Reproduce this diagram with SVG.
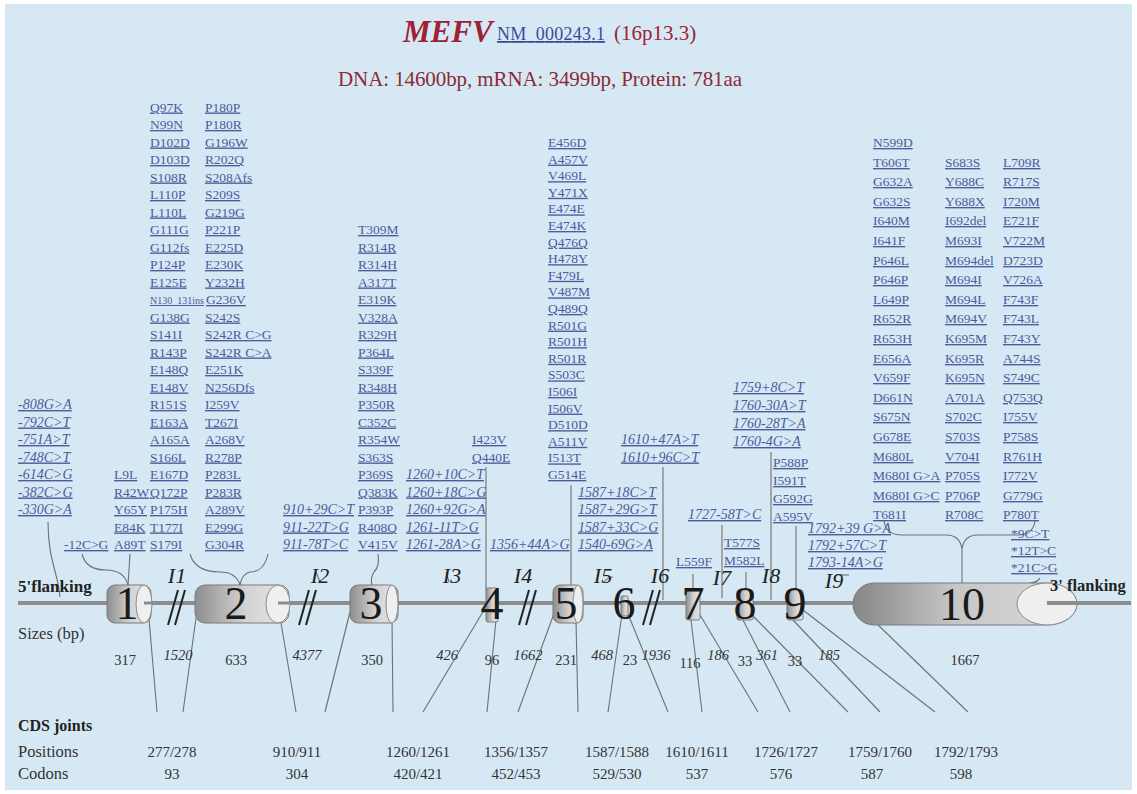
<svg xmlns="http://www.w3.org/2000/svg" width="1137" height="794" viewBox="0 0 1137 794">
<defs>
<style>
text{font-family:"Liberation Serif","Times New Roman",serif}
.m{font-size:13.5px;fill:#4b5b9b;text-decoration:underline}
.mi{font-size:14px;fill:#4b5b9b;text-decoration:underline;font-style:italic}
.lb{font-size:16.5px;fill:#333}
.sz{font-size:14.5px;fill:#333;text-anchor:middle}
.szi{font-size:14.5px;fill:#333;text-anchor:middle;font-style:italic}
.in{font-size:22px;fill:#222;font-style:italic;text-anchor:middle}
.en{font-size:46px;fill:#1a1a1a;text-anchor:middle}
.pos{font-size:15px;fill:#333;text-anchor:middle}
.ln{stroke:#707070;stroke-width:1.1;fill:none}
.cap{fill:#efefef;stroke:#8a8a8a;stroke-width:1}
.ex{stroke:#7a7a7a;stroke-width:1}
.brk{stroke:#222;stroke-width:2}
</style>
<linearGradient id="eg" x1="0" y1="0" x2="1" y2="0">
<stop offset="0" stop-color="#8e8e8e"/><stop offset="0.55" stop-color="#d4d4d4"/><stop offset="1" stop-color="#e4e4e4"/>
</linearGradient>
<linearGradient id="eg10" x1="0" y1="0" x2="1" y2="0">
<stop offset="0" stop-color="#868686"/><stop offset="0.45" stop-color="#c6c6c6"/><stop offset="1" stop-color="#dadada"/>
</linearGradient>
</defs>
<rect width="1137" height="794" fill="#ffffff"/>
<rect x="5" y="4" width="1127" height="786" fill="#d7e8f5"/>

<g id="title">
<text x="403" y="42" font-family="Liberation Serif, serif" font-size="31" font-weight="bold" font-style="italic" fill="#9e2236">MEFV</text>
<text x="497" y="40" font-family="Liberation Serif, serif" font-size="18" fill="#3a4a9a" text-decoration="underline" textLength="108">NM_000243.1</text>
<text x="614" y="40" font-family="Liberation Serif, serif" font-size="21" fill="#9e2236">(16p13.3)</text>
<text x="338" y="86" font-family="Liberation Serif, serif" font-size="21" fill="#8c2a36" textLength="404">DNA: 14600bp, mRNA: 3499bp, Protein: 781aa</text>
</g>

<g id="connectors">
<line x1="18" y1="603" x2="1131" y2="603" stroke="#8d8d8d" stroke-width="4"/>
<path class="ln" d="M48,522 C48,560 58,572 60,597"/>
<path class="ln" d="M82,554 Q86,570 106,570 Q124,570 128,585"/>
<path class="ln" d="M130,554 L128,585"/>
<path class="ln" d="M190,554 Q195,572 220,572 Q236,572 240,585"/>
<path class="ln" d="M268,554 Q264,572 250,572 Q242,574 240,585"/>
<path class="ln" d="M316,572 L320,582"/>
<path class="ln" d="M378,554 Q380,566 374,572 Q370,578 372,585"/>
<path class="ln" d="M446,572 L449,582"/>
<path class="ln" d="M486,467 L486,590"/>
<path class="ln" d="M527,582 L531,573"/>
<path class="ln" d="M571,485 L571,588"/>
<path class="ln" d="M604,582 Q608,577 613,577"/>
<path class="ln" d="M663,467 L663,600"/>
<path class="ln" d="M693,574 L693,592"/>
<path class="ln" d="M722,525 L722,598"/>
<path class="ln" d="M746,572 L746,592"/>
<path class="ln" d="M771,452 L771,600"/>
<path class="ln" d="M796,526 L796,592"/>
<path class="ln" d="M836,575 L849,575"/>
<path class="ln" d="M884,521 Q886,535 902,535 L946,535 Q960,535 962,549 Q964,535 978,535 L1018,535 Q1033,535 1035,521"/>
<path class="ln" d="M962,549 L962,584"/>
<path class="ln" d="M1040,578 C1036,590 978,580 966,588"/>
<path class="ln" d="M157,712 L149,619"/>
<path class="ln" d="M183,712 L196,618"/>
<path class="ln" d="M296,712 L280,617"/>
<path class="ln" d="M325,712 L350,612"/>
<path class="ln" d="M393,712 L392,620"/>
<path class="ln" d="M423,712 L490,600"/>
<path class="ln" d="M487,712 L496,620"/>
<path class="ln" d="M518,712 L556,608"/>
<path class="ln" d="M578,712 L576,621"/>
<path class="ln" d="M608,712 L622,614"/>
<path class="ln" d="M668,712 L628,614"/>
<path class="ln" d="M702,712 L691,620"/>
<path class="ln" d="M758,712 L700,615"/>
<path class="ln" d="M790,712 L742,618"/>
<path class="ln" d="M848,712 L752,615"/>
<path class="ln" d="M880,712 L793,620"/>
<path class="ln" d="M935,712 L803,610"/>
<path class="ln" d="M968,712 L875,622"/>
<line class="brk" x1="168" y1="625" x2="178" y2="590"/><line class="brk" x1="175" y1="625" x2="185" y2="590"/>
<line class="brk" x1="299" y1="625" x2="309" y2="590"/><line class="brk" x1="306" y1="625" x2="316" y2="590"/>
<line class="brk" x1="519" y1="625" x2="529" y2="590"/><line class="brk" x1="526" y1="625" x2="536" y2="590"/>
<line class="brk" x1="643" y1="625" x2="653" y2="590"/><line class="brk" x1="650" y1="625" x2="660" y2="590"/>
</g>

<g id="exon1">
<rect class="ex" x="107" y="585" width="44" height="38" rx="8" fill="url(#eg)"/>
<ellipse class="cap" cx="144" cy="604" rx="8" ry="19"/>
<line x1="144" y1="603" x2="152" y2="603" stroke="#8d8d8d" stroke-width="3"/>
<text class="en" x="127" y="619">1</text>
</g>
<g id="exon2">
<rect class="ex" x="195" y="585" width="94" height="38" rx="10" fill="url(#eg)"/>
<ellipse class="cap" cx="278" cy="604" rx="12" ry="19"/>
<line x1="278" y1="603" x2="290" y2="603" stroke="#8d8d8d" stroke-width="3"/>
<text class="en" x="236" y="619">2</text>
</g>
<g id="exon3">
<rect class="ex" x="350" y="585" width="48" height="38" rx="8" fill="url(#eg)"/>
<ellipse class="cap" cx="392" cy="604" rx="6" ry="19"/>
<text class="en" x="371" y="619">3</text>
</g>
<g id="exon4">
<rect class="ex" x="486" y="588" width="12" height="34" rx="2" fill="url(#eg)"/>
<text class="en" x="492" y="619" font-size="44">4</text>
</g>
<g id="exon5">
<rect class="ex" x="553" y="585" width="30" height="38" rx="7" fill="url(#eg)"/>
<ellipse class="cap" cx="578" cy="604" rx="5" ry="19"/>
<text class="en" x="566" y="619">5</text>
</g>
<g id="exon6">
<rect class="ex" x="621" y="596" width="7" height="20" rx="1" fill="url(#eg)"/>
<text class="en" x="624" y="619" font-size="44">6</text>
</g>
<g id="exon7">
<rect class="ex" x="686" y="590" width="14" height="30" rx="2" fill="url(#eg)"/>
<text class="en" x="693" y="619" font-size="44">7</text>
</g>
<g id="exon8">
<rect class="ex" x="737" y="590" width="16" height="30" rx="2" fill="url(#eg)"/>
<text class="en" x="745" y="619" font-size="44">8</text>
</g>
<g id="exon9">
<rect class="ex" x="787" y="590" width="16" height="30" rx="2" fill="url(#eg)"/>
<text class="en" x="795" y="619" font-size="44">9</text>
</g>
<g id="exon10">
<path class="ex" d="M874,583 L1047,583 A30,21 0 0 1 1047,625 L874,625 A21,21 0 0 1 874,583 Z" fill="url(#eg10)"/>
<ellipse class="cap" cx="1047" cy="604" rx="30" ry="21"/>
<line x1="1047" y1="603" x2="1131" y2="603" stroke="#8d8d8d" stroke-width="4"/>
<text class="en" x="962" y="620">10</text>
</g>

<g id="labels">
<text x="18" y="592" font-size="17" font-weight="bold" fill="#222">5'flanking</text>
<text x="1050" y="591" font-size="16.5" font-weight="bold" fill="#222">3' flanking</text>
<text class="lb" x="18" y="639">Sizes (bp)</text>
<text class="in" x="177" y="583">I1</text>
<text class="in" x="320" y="583">I2</text>
<text class="in" x="452" y="583">I3</text>
<text class="in" x="523" y="583">I4</text>
<text class="in" x="603" y="583">I5</text>
<text class="in" x="660" y="583">I6</text>
<text class="in" x="722" y="585">I7</text>
<text class="in" x="771" y="583">I8</text>
<text class="in" x="834" y="588">I9</text>
<text class="sz" x="125" y="665">317</text>
<text class="szi" x="178" y="660">1520</text>
<text class="sz" x="236" y="665">633</text>
<text class="szi" x="307" y="660">4377</text>
<text class="sz" x="372" y="665">350</text>
<text class="szi" x="447" y="660">426</text>
<text class="sz" x="492" y="665">96</text>
<text class="szi" x="528" y="660">1662</text>
<text class="sz" x="566" y="665">231</text>
<text class="szi" x="602" y="660">468</text>
<text class="sz" x="630" y="665">23</text>
<text class="szi" x="656" y="660">1936</text>
<text class="sz" x="690" y="668">116</text>
<text class="szi" x="718" y="660">186</text>
<text class="sz" x="745" y="666">33</text>
<text class="szi" x="767" y="660">361</text>
<text class="sz" x="795" y="666">33</text>
<text class="szi" x="829" y="660">185</text>
<text class="sz" x="965" y="665">1667</text>
<text x="18" y="731" font-size="16" font-weight="bold" fill="#222">CDS joints</text>
<text class="lb" x="18" y="757">Positions</text>
<text class="lb" x="18" y="779">Codons</text>
<text class="pos" x="172" y="757">277/278</text><text class="pos" x="172" y="779">93</text>
<text class="pos" x="297" y="757">910/911</text><text class="pos" x="297" y="779">304</text>
<text class="pos" x="418" y="757">1260/1261</text><text class="pos" x="418" y="779">420/421</text>
<text class="pos" x="516" y="757">1356/1357</text><text class="pos" x="516" y="779">452/453</text>
<text class="pos" x="617" y="757">1587/1588</text><text class="pos" x="617" y="779">529/530</text>
<text class="pos" x="697" y="757">1610/1611</text><text class="pos" x="697" y="779">537</text>
<text class="pos" x="786" y="757">1726/1727</text><text class="pos" x="781" y="779">576</text>
<text class="pos" x="880" y="757">1759/1760</text><text class="pos" x="872" y="779">587</text>
<text class="pos" x="966" y="757">1792/1793</text><text class="pos" x="961" y="779">598</text>
</g>

<g id="mut-5flank">
<text class="mi" x="18" y="409">-808G&gt;A</text>
<text class="mi" x="18" y="426.5">-792C&gt;T</text>
<text class="mi" x="18" y="444">-751A&gt;T</text>
<text class="mi" x="18" y="461.5">-748C&gt;T</text>
<text class="mi" x="18" y="479">-614C&gt;G</text>
<text class="mi" x="18" y="496.5">-382C&gt;G</text>
<text class="mi" x="18" y="514">-330G&gt;A</text>
</g>
<g id="mut-exon1">
<text class="m" x="64" y="549">-12C&gt;G</text>
<text class="m" x="114" y="479">L9L</text>
<text class="m" x="114" y="496.5">R42W</text>
<text class="m" x="114" y="514">Y65Y</text>
<text class="m" x="114" y="531.5">E84K</text>
<text class="m" x="114" y="549">A89T</text>
</g>
<g id="mut-exon2">
<text class="m" x="150" y="111.5">Q97K</text>
<text class="m" x="150" y="129">N99N</text>
<text class="m" x="150" y="146.5">D102D</text>
<text class="m" x="150" y="164">D103D</text>
<text class="m" x="150" y="181.5">S108R</text>
<text class="m" x="150" y="199">L110P</text>
<text class="m" x="150" y="216.5">L110L</text>
<text class="m" x="150" y="234">G111G</text>
<text class="m" x="150" y="251.5">G112fs</text>
<text class="m" x="150" y="269">P124P</text>
<text class="m" x="150" y="286.5">E125E</text>
<text class="m" x="150" y="304" style="font-size:10px">N130_131ins</text>
<text class="m" x="150" y="321.5">G138G</text>
<text class="m" x="150" y="339">S141I</text>
<text class="m" x="150" y="356.5">R143P</text>
<text class="m" x="150" y="374">E148Q</text>
<text class="m" x="150" y="391.5">E148V</text>
<text class="m" x="150" y="409">R151S</text>
<text class="m" x="150" y="426.5">E163A</text>
<text class="m" x="150" y="444">A165A</text>
<text class="m" x="150" y="461.5">S166L</text>
<text class="m" x="150" y="479">E167D</text>
<text class="m" x="150" y="496.5">Q172P</text>
<text class="m" x="150" y="514">P175H</text>
<text class="m" x="150" y="531.5">T177I</text>
<text class="m" x="150" y="549">S179I</text>
<text class="m" x="205" y="111.5">P180P</text>
<text class="m" x="205" y="129">P180R</text>
<text class="m" x="205" y="146.5">G196W</text>
<text class="m" x="205" y="164">R202Q</text>
<text class="m" x="205" y="181.5">S208Afs</text>
<text class="m" x="205" y="199">S209S</text>
<text class="m" x="205" y="216.5">G219G</text>
<text class="m" x="205" y="234">P221P</text>
<text class="m" x="205" y="251.5">E225D</text>
<text class="m" x="205" y="269">E230K</text>
<text class="m" x="205" y="286.5">Y232H</text>
<text class="m" x="206" y="304">G236V</text>
<text class="m" x="205" y="321.5">S242S</text>
<text class="m" x="205" y="339">S242R C&gt;G</text>
<text class="m" x="205" y="356.5">S242R C&gt;A</text>
<text class="m" x="205" y="374">E251K</text>
<text class="m" x="205" y="391.5">N256Dfs</text>
<text class="m" x="205" y="409">I259V</text>
<text class="m" x="205" y="426.5">T267I</text>
<text class="m" x="205" y="444">A268V</text>
<text class="m" x="205" y="461.5">R278P</text>
<text class="m" x="205" y="479">P283L</text>
<text class="m" x="205" y="496.5">P283R</text>
<text class="m" x="205" y="514">A289V</text>
<text class="m" x="205" y="531.5">E299G</text>
<text class="m" x="205" y="549">G304R</text>
</g>
<g id="mut-intron2">
<text class="mi" x="283" y="514">910+29C&gt;T</text>
<text class="mi" x="283" y="531.5">911-22T&gt;G</text>
<text class="mi" x="283" y="549">911-78T&gt;C</text>
</g>
<g id="mut-exon3">
<text class="m" x="358" y="234">T309M</text>
<text class="m" x="358" y="251.5">R314R</text>
<text class="m" x="358" y="269">R314H</text>
<text class="m" x="358" y="286.5">A317T</text>
<text class="m" x="358" y="304">E319K</text>
<text class="m" x="358" y="321.5">V328A</text>
<text class="m" x="358" y="339">R329H</text>
<text class="m" x="358" y="356.5">P364L</text>
<text class="m" x="358" y="374">S339F</text>
<text class="m" x="358" y="391.5">R348H</text>
<text class="m" x="358" y="409">P350R</text>
<text class="m" x="358" y="426.5">C352C</text>
<text class="m" x="358" y="444">R354W</text>
<text class="m" x="358" y="461.5">S363S</text>
<text class="m" x="358" y="479">P369S</text>
<text class="m" x="358" y="496.5">Q383K</text>
<text class="m" x="358" y="514">P393P</text>
<text class="m" x="358" y="531.5">R408Q</text>
<text class="m" x="358" y="549">V415V</text>
</g>
<g id="mut-intron3">
<text class="mi" x="406" y="479">1260+10C&gt;T</text>
<text class="mi" x="406" y="496.5">1260+18C&gt;G</text>
<text class="mi" x="406" y="514">1260+92G&gt;A</text>
<text class="mi" x="406" y="531.5">1261-11T&gt;G</text>
<text class="mi" x="406" y="549">1261-28A&gt;G</text>
</g>
<g id="mut-exon4">
<text class="m" x="472" y="444">I423V</text>
<text class="m" x="472" y="461.5">Q440E</text>
</g>
<g id="mut-intron4">
<text class="mi" x="490" y="549">1356+44A&gt;G</text>
</g>
<g id="mut-exon5">
<text class="m" x="548" y="147">E456D</text>
<text class="m" x="548" y="163.6">A457V</text>
<text class="m" x="548" y="180.2">V469L</text>
<text class="m" x="548" y="196.8">Y471X</text>
<text class="m" x="548" y="213.4">E474E</text>
<text class="m" x="548" y="230">E474K</text>
<text class="m" x="548" y="246.6">Q476Q</text>
<text class="m" x="548" y="263.2">H478Y</text>
<text class="m" x="548" y="279.8">F479L</text>
<text class="m" x="548" y="296.4">V487M</text>
<text class="m" x="548" y="313">Q489Q</text>
<text class="m" x="548" y="329.6">R501G</text>
<text class="m" x="548" y="346.2">R501H</text>
<text class="m" x="548" y="362.8">R501R</text>
<text class="m" x="548" y="379.4">S503C</text>
<text class="m" x="548" y="396">I506I</text>
<text class="m" x="548" y="412.6">I506V</text>
<text class="m" x="548" y="429.2">D510D</text>
<text class="m" x="548" y="445.8">A511V</text>
<text class="m" x="548" y="462.4">I513T</text>
<text class="m" x="548" y="479">G514E</text>
</g>
<g id="mut-intron5">
<text class="mi" x="578" y="497">1587+18C&gt;T</text>
<text class="mi" x="578" y="514">1587+29G&gt;T</text>
<text class="mi" x="578" y="531.5">1587+33C&gt;G</text>
<text class="mi" x="578" y="549">1540-69G&gt;A</text>
</g>
<g id="mut-intron6">
<text class="mi" x="621" y="444">1610+47A&gt;T</text>
<text class="mi" x="621" y="461.5">1610+96C&gt;T</text>
</g>
<g id="mut-exon7">
<text class="m" x="676" y="566">L559F</text>
</g>
<g id="mut-intron7">
<text class="mi" x="688" y="519">1727-58T&gt;C</text>
</g>
<g id="mut-exon8">
<text class="m" x="724" y="547">T577S</text>
<text class="m" x="724" y="565">M582L</text>
</g>
<g id="mut-intron8">
<text class="mi" x="733" y="392">1759+8C&gt;T</text>
<text class="mi" x="733" y="410">1760-30A&gt;T</text>
<text class="mi" x="733" y="428">1760-28T&gt;A</text>
<text class="mi" x="733" y="446">1760-4G&gt;A</text>
</g>
<g id="mut-exon9">
<text class="m" x="773" y="467">P588P</text>
<text class="m" x="773" y="485">I591T</text>
<text class="m" x="773" y="503">G592G</text>
<text class="m" x="773" y="521">A595V</text>
</g>
<g id="mut-intron9">
<text class="mi" x="808" y="533">1792+39 G&gt;A</text>
<text class="mi" x="808" y="550">1792+57C&gt;T</text>
<text class="mi" x="808" y="567">1793-14A&gt;G</text>
</g>
<g id="mut-exon10">
<text class="m" x="873" y="147">N599D</text>
<text class="m" x="873" y="167">T606T</text>
<text class="m" x="873" y="186">G632A</text>
<text class="m" x="873" y="206">G632S</text>
<text class="m" x="873" y="225">I640M</text>
<text class="m" x="873" y="245">I641F</text>
<text class="m" x="873" y="265">P646L</text>
<text class="m" x="873" y="284">P646P</text>
<text class="m" x="873" y="304">L649P</text>
<text class="m" x="873" y="323">R652R</text>
<text class="m" x="873" y="343">R653H</text>
<text class="m" x="873" y="363">E656A</text>
<text class="m" x="873" y="382">V659F</text>
<text class="m" x="873" y="402">D661N</text>
<text class="m" x="873" y="421">S675N</text>
<text class="m" x="873" y="441">G678E</text>
<text class="m" x="873" y="461">M680L</text>
<text class="m" x="873" y="480">M680I G&gt;A</text>
<text class="m" x="873" y="500">M680I G&gt;C</text>
<text class="m" x="873" y="519">T681I</text>
<text class="m" x="945" y="167">S683S</text>
<text class="m" x="945" y="186">Y688C</text>
<text class="m" x="945" y="206">Y688X</text>
<text class="m" x="945" y="225">I692del</text>
<text class="m" x="945" y="245">M693I</text>
<text class="m" x="945" y="265">M694del</text>
<text class="m" x="945" y="284">M694I</text>
<text class="m" x="945" y="304">M694L</text>
<text class="m" x="945" y="323">M694V</text>
<text class="m" x="945" y="343">K695M</text>
<text class="m" x="945" y="363">K695R</text>
<text class="m" x="945" y="382">K695N</text>
<text class="m" x="945" y="402">A701A</text>
<text class="m" x="945" y="421">S702C</text>
<text class="m" x="945" y="441">S703S</text>
<text class="m" x="945" y="461">V704I</text>
<text class="m" x="945" y="480">P705S</text>
<text class="m" x="945" y="500">P706P</text>
<text class="m" x="945" y="519">R708C</text>
<text class="m" x="1003" y="167">L709R</text>
<text class="m" x="1003" y="186">R717S</text>
<text class="m" x="1003" y="206">I720M</text>
<text class="m" x="1003" y="225">E721F</text>
<text class="m" x="1003" y="245">V722M</text>
<text class="m" x="1003" y="265">D723D</text>
<text class="m" x="1003" y="284">V726A</text>
<text class="m" x="1003" y="304">F743F</text>
<text class="m" x="1003" y="323">F743L</text>
<text class="m" x="1003" y="343">F743Y</text>
<text class="m" x="1003" y="363">A744S</text>
<text class="m" x="1003" y="382">S749C</text>
<text class="m" x="1003" y="402">Q753Q</text>
<text class="m" x="1003" y="421">I755V</text>
<text class="m" x="1003" y="441">P758S</text>
<text class="m" x="1003" y="461">R761H</text>
<text class="m" x="1003" y="480">I772V</text>
<text class="m" x="1003" y="500">G779G</text>
<text class="m" x="1003" y="519">P780T</text>
</g>
<g id="mut-3utr">
<text class="m" x="1011" y="538">*9C&gt;T</text>
<text class="m" x="1011" y="555">*12T&gt;C</text>
<text class="m" x="1011" y="572">*21C&gt;G</text>
</g>
</svg>
